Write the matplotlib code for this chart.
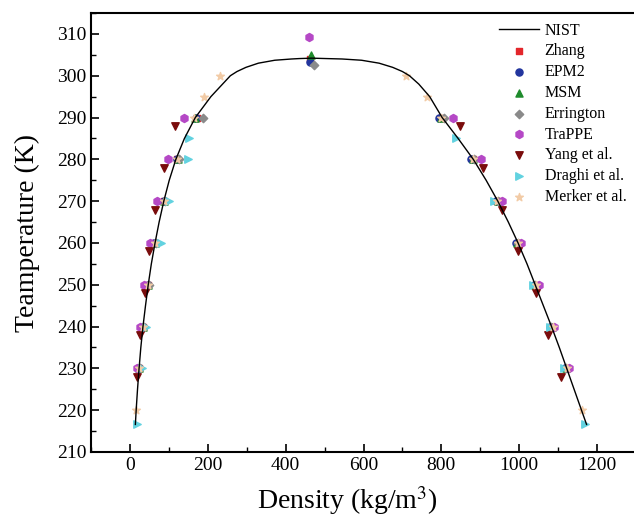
import numpy as np
import matplotlib
matplotlib.use("Agg")
import matplotlib.pyplot as plt
from matplotlib.ticker import MultipleLocator

plt.rcParams['font.family'] = ['Liberation Serif', 'DejaVu Serif']
plt.rcParams['mathtext.fontset'] = 'stix'

# NIST saturated CO2 curve (vapor branch up, liquid branch down)
nist_T_vap = [216.59, 220, 225, 230, 235, 240, 245, 250, 255, 260, 265, 270, 275, 280, 285, 290, 295, 298, 300, 301, 302, 303, 303.7, 304.0, 304.1, 304.2]
nist_rho_vap = [14, 16, 19.5, 23.5, 28, 33.5, 40, 47, 55, 64.5, 75, 87, 101, 118, 140, 168, 208, 238, 258, 275, 298, 330, 372, 415, 435, 467]
nist_T_liq = [304.1, 304.0, 303.7, 303, 302, 301, 300, 298, 295, 290, 285, 280, 275, 270, 265, 260, 255, 250, 245, 240, 235, 230, 225, 220, 216.59]
nist_rho_liq = [505, 545, 595, 640, 675, 700, 718, 742, 770, 802, 843, 882, 915, 945, 972, 997, 1020, 1041, 1062, 1083, 1103, 1122, 1141, 1160, 1173]

rows = [230, 240, 250, 260, 270, 280, 290]

zhang_T = rows + rows + [304.0]
zhang_rho = [24, 34, 47, 65, 88, 122, 172] + [1122, 1084, 1042, 996, 946, 882, 800] + [463]

epm2_T = rows + rows + [303.3]
epm2_rho = [23, 33, 46, 63, 87, 121, 170] + [1117, 1080, 1037, 991, 941, 876, 794] + [462]

msm_T = rows + rows + [305.0]
msm_rho = [24, 34, 47, 65, 88, 123, 168] + [1120, 1083, 1040, 995, 945, 880, 800] + [464]

errington_T = rows + rows + [302.5]
errington_rho = [25, 35, 49, 67, 90, 127, 188] + [1120, 1082, 1040, 996, 946, 884, 806] + [472]

trappe_T = rows + rows + [309.3]
trappe_rho = [17, 26, 37, 51, 70, 97, 139] + [1128, 1090, 1050, 1004, 956, 901, 831] + [460]

yang_rows = [228, 238, 248, 258, 268, 278, 288]
yang_T = yang_rows + yang_rows
yang_rho = [19, 26, 39, 49, 65, 87, 115] + [1107, 1075, 1043, 996, 955, 907, 847]

draghi_T = [216.6, 230, 240, 260, 270, 280, 285] + [216.6, 230, 240, 250, 270, 285]
draghi_rho = [17, 30, 40, 81, 101, 150, 152] + [1170, 1116, 1078, 1036, 936, 838]

merker_rows = [220, 230, 240, 250, 260, 270, 280, 290, 295, 300]
merker_T = merker_rows + merker_rows
merker_rho = [15, 24, 34, 47, 64, 87, 121, 165, 190, 231] + [1161, 1124, 1086, 1044, 997, 944, 881, 800, 764, 708]

fig = plt.figure(figsize=(6.34, 5.17), dpi=100)
ax = fig.add_axes([91 / 634, 1 - 452 / 517, 545 / 634, 439 / 517])

ax.plot(nist_rho_vap + nist_rho_liq, nist_T_vap + nist_T_liq, color='black', lw=1.0, label='NIST', zorder=5)

ms = 26
ax.scatter(zhang_rho, zhang_T, marker='s', s=ms * 0.8, color='#e3262b', label='Zhang', zorder=3)
ax.scatter(epm2_rho, epm2_T, marker='o', s=ms, color='#22359e', label='EPM2', zorder=3)
ax.scatter(msm_rho, msm_T, marker='^', s=ms, color='#1e8b2c', label='MSM', zorder=3)
ax.scatter(errington_rho, errington_T, marker='D', s=ms * 0.7, color='#8a8a8a', label='Errington', zorder=3)
ax.scatter(trappe_rho, trappe_T, marker='h', s=ms * 1.3, color='#b548c6', label='TraPPE', zorder=3)
ax.scatter(yang_rho, yang_T, marker='v', s=ms * 1.1, color='#7a0c0c', label='Yang et al.', zorder=3)
ax.scatter(draghi_rho, draghi_T, marker='>', s=ms * 1.1, color='#62d2e0', label='Draghi et al.', zorder=3)
ax.scatter(merker_rho, merker_T, marker='*', s=ms * 1.3, color='#f2cba6', label='Merker et al.', zorder=4)

ax.set_xlim(-100, 1300)
ax.set_ylim(210, 315)
ax.xaxis.set_major_locator(MultipleLocator(200))
ax.xaxis.set_minor_locator(MultipleLocator(100))
ax.yaxis.set_major_locator(MultipleLocator(10))
ax.yaxis.set_minor_locator(MultipleLocator(5))
ax.tick_params(which='both', direction='in', top=False, right=False, labelsize=14)
ax.tick_params(which='major', length=6, width=1.2)
ax.tick_params(which='minor', length=3.5, width=1.0)
for s in ax.spines.values():
    s.set_linewidth(1.5)

ax.set_xlabel('Density (kg/m$^3$)', fontsize=20)
ax.xaxis.set_label_coords(0.47, -0.073)
ax.set_ylabel('Teamperature (K)', fontsize=20, labelpad=12)

ax.legend(loc='upper right', frameon=False, fontsize=11.5, handlelength=2.5,
          handletextpad=0.35, labelspacing=0.3, borderaxespad=0.2,
          bbox_to_anchor=(1.0, 1.0))

fig.savefig('out.png', dpi=100)
